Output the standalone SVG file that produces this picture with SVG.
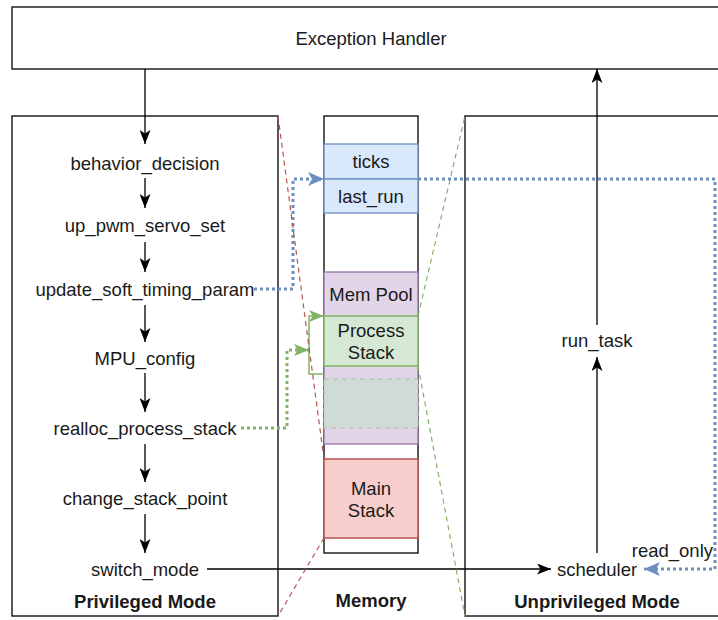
<svg xmlns="http://www.w3.org/2000/svg" width="718" height="620" viewBox="0 0 718 620">
<style>
text{font-family:"Liberation Sans",Arial,sans-serif;font-size:18.5px;fill:#1a1a1a;text-anchor:middle}
.b{font-weight:bold}
.box{fill:#fff;stroke:#000;stroke-width:1.3}
.ln{fill:none;stroke:#000;stroke-width:1.3}
.bl{fill:none;stroke:#6c8ebf;stroke-width:3;stroke-dasharray:3 3}
.gd{fill:none;stroke:#82b366;stroke-width:3;stroke-dasharray:3 3}
.gs{fill:none;stroke:#82b366;stroke-width:1.5}
.rd{fill:none;stroke:#b85450;stroke-width:1.2;stroke-dasharray:5 4}
.gdash{fill:none;stroke:#82b366;stroke-width:1.2;stroke-dasharray:5 4}
</style>
<defs>
<marker id="ak" markerUnits="userSpaceOnUse" viewBox="0 0 14 11" markerWidth="14" markerHeight="11" refX="14" refY="5.5" orient="auto"><path d="M0,0 L14,5.5 L0,11 L3.5,5.5 Z" fill="#000"/></marker>
<marker id="ab" markerUnits="userSpaceOnUse" viewBox="0 0 16 14" markerWidth="16" markerHeight="14" refX="16" refY="7" orient="auto"><path d="M0,0 L16,7 L0,14 L4,7 Z" fill="#6c8ebf"/></marker>
<marker id="ag" markerUnits="userSpaceOnUse" viewBox="0 0 15 12" markerWidth="15" markerHeight="12" refX="15" refY="6" orient="auto"><path d="M0,0 L15,6 L0,12 L3.5,6 Z" fill="#82b366"/></marker>
</defs>
<rect width="718" height="620" fill="#fff"/>
<g id="exception_handler"><rect class="box" x="12" y="7" width="718" height="62"/><text x="371" y="44.5">Exception Handler</text></g>
<g id="privileged_mode"><rect class="box" x="12" y="116" width="266" height="500"/><text class="b" x="145" y="607.5">Privileged Mode</text></g>
<g id="memory"><rect class="box" x="324" y="116" width="94" height="437"/><text class="b" x="371" y="606.5">Memory</text></g>
<g id="unprivileged_mode"><rect class="box" x="465" y="116" width="265" height="500"/><text class="b" x="597" y="607.5">Unprivileged Mode</text></g>
<g id="ticks"><rect x="324" y="144" width="94" height="35" fill="#dae8fc" stroke="#6c8ebf" stroke-width="1.3"/><text x="371" y="168">ticks</text></g>
<g id="last_run"><rect x="324" y="179" width="94" height="34" fill="#dae8fc" stroke="#6c8ebf" stroke-width="1.3"/><text x="371" y="202.5">last_run</text></g>
<g id="mem_pool"><rect x="324" y="272" width="94" height="172" fill="#e1d5e7" stroke="#9673a6" stroke-width="1.3"/><text x="371" y="300.5">Mem Pool</text></g>
<g id="process_stack"><rect x="324" y="316" width="94" height="50" fill="#d5e8d4" stroke="#82b366" stroke-width="1.5"/><text x="371" y="336.5">Process</text><text x="371" y="358.5">Stack</text></g>
<g id="process_stack_ghost"><rect x="324" y="379" width="94" height="49" fill="#d0dbd8" stroke="#a9c2a2" stroke-width="1.2" stroke-dasharray="5 4"/></g>
<g id="main_stack"><rect x="324" y="459" width="94" height="79" fill="#f8cecc" stroke="#b85450" stroke-width="1.5"/><text x="371" y="494.5">Main</text><text x="371" y="516.5">Stack</text></g>
<g id="behavior_decision"><text x="145" y="169.5">behavior_decision</text></g>
<g id="up_pwm_servo_set"><text x="145" y="231.5">up_pwm_servo_set</text></g>
<g id="update_soft_timing_param"><text x="145" y="295.5">update_soft_timing_param</text></g>
<g id="mpu_config"><text x="145" y="364.5">MPU_config</text></g>
<g id="realloc_process_stack"><text x="145" y="434.5">realloc_process_stack</text></g>
<g id="change_stack_point"><text x="145" y="504.5">change_stack_point</text></g>
<g id="switch_mode"><text x="145" y="575.5">switch_mode</text></g>
<g id="run_task"><text x="597" y="346.5">run_task</text></g>
<g id="scheduler"><text x="597" y="575.5">scheduler</text></g>
<g id="connectors">
<path class="ln" d="M145,69 V144" marker-end="url(#ak)"/>
<path class="ln" d="M145,178 V208" marker-end="url(#ak)"/>
<path class="ln" d="M145,242 V272" marker-end="url(#ak)"/>
<path class="ln" d="M145,305 V342" marker-end="url(#ak)"/>
<path class="ln" d="M145,373 V412" marker-end="url(#ak)"/>
<path class="ln" d="M145,444 V482" marker-end="url(#ak)"/>
<path class="ln" d="M145,514 V553" marker-end="url(#ak)"/>
<path class="ln" d="M207,569 H551" marker-end="url(#ak)"/>
<path class="ln" d="M597,553 V357" marker-end="url(#ak)"/>
<path class="ln" d="M597,325 V69" marker-end="url(#ak)"/>
<path class="bl" d="M254,289 H293 V179 H324" marker-end="url(#ab)"/>
<path class="bl" d="M418,179 H715 V569 H644" marker-end="url(#ab)"/>
<text x="713" y="556.5" style="text-anchor:end">read_only</text>
<path class="gd" d="M241,428 H287 V350 H309" marker-end="url(#ag)"/>
<path class="gs" d="M324,374 H309 V316 H324" marker-end="url(#ag)"/>
<path class="rd" d="M278,116 L324,459"/>
<path class="rd" d="M324,538 L278,616"/>
<path class="gdash" d="M418,316 L465,116"/>
<path class="gdash" d="M418,366 L465,616"/>
</g>
</svg>
